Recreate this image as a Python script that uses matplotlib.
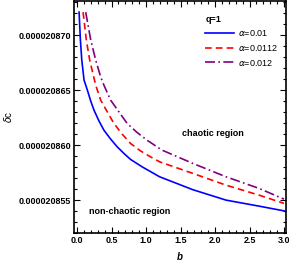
import matplotlib
matplotlib.use("Agg")
import matplotlib.pyplot as plt
from matplotlib.ticker import MultipleLocator, FormatStrFormatter

plt.rcParams['font.family'] = ['Liberation Sans', 'DejaVu Sans']
plt.rcParams['mathtext.fontset'] = 'dejavusans'

# values (delta_c given in units of 1e-6)
b_blue = [0.029, 0.048, 0.068, 0.101, 0.149, 0.198, 0.245, 0.317, 0.389, 0.486, 0.581,
          0.678, 0.775, 0.95, 1.197, 1.677, 2.159, 2.640, 2.976, 3.0]
dc_blue = [20.87209, 20.86955, 20.86773, 20.86591, 20.86500, 20.86400, 20.86318, 20.86220,
           20.86136, 20.86055, 20.85985, 20.85925, 20.85870, 20.85800, 20.85712, 20.85595,
           20.85500, 20.85445, 20.85405, 20.85403]

b_red = [0.087, 0.134, 0.183, 0.27, 0.342, 0.437, 0.534, 0.653, 0.775, 0.918, 1.063,
         1.197, 1.677, 2.159, 2.640, 2.976, 3.0]
dc_red = [20.87209, 20.86955, 20.86773, 20.86545, 20.86409, 20.86303, 20.86197, 20.86100,
          20.86015, 20.85948, 20.85894, 20.85848, 20.85743, 20.85636, 20.85545, 20.85475,
          20.85471]

b_pur = [0.125, 0.198, 0.270, 0.342, 0.389, 0.486, 0.606, 0.726, 0.87, 1.014, 1.230,
         1.677, 2.159, 2.640, 2.976, 3.0]
dc_pur = [20.87209, 20.86955, 20.86773, 20.86620, 20.86545, 20.86409, 20.86303, 20.86197,
          20.86115, 20.86045, 20.85955, 20.85834, 20.85712, 20.85606, 20.85515, 20.85510]

labels = [r"$\alpha$=0.01", r"$\alpha$=0.0112", r"$\alpha$=0.012"]

fig = plt.figure(figsize=(2.89, 2.64), dpi=100)
ax = fig.add_axes([0.256, 0.117, 0.734, 0.879])

ax.plot(b_blue, [v * 1e-6 for v in dc_blue], color=(0, 0, 1), lw=1.2, label=labels[0])
ax.plot(b_red, [v * 1e-6 for v in dc_red], color=(1, 0, 0), lw=1.2, ls=(0, (4, 2.5)), label=labels[1])
ax.plot(b_pur, [v * 1e-6 for v in dc_pur], color=(0.5, 0, 0.5), lw=1.2, ls=(0, (6, 2, 1, 2)), label=labels[2])

ax.set_xlim(-0.045, 3.03)
ax.set_ylim(2.08520e-5, 2.08731e-5)

ax.xaxis.set_major_locator(MultipleLocator(0.5))
ax.xaxis.set_minor_locator(MultipleLocator(0.1))
ax.yaxis.set_major_locator(MultipleLocator(5e-9))
ax.yaxis.set_minor_locator(MultipleLocator(1e-9))
ax.xaxis.set_major_formatter(FormatStrFormatter('%.1f'))
ax.yaxis.set_major_formatter(FormatStrFormatter('%.9f'))
ax.tick_params(which='both', direction='in', top=True, right=True, width=0.8)
ax.tick_params(which='major', length=4, labelsize=6.5, pad=2)
ax.tick_params(which='minor', length=2)
for t in ax.get_xticklabels() + ax.get_yticklabels():
    t.set_fontweight('bold')
for s in ax.spines.values():
    s.set_linewidth(1.2)

ax.set_xlabel("b", fontsize=7, fontstyle='italic', fontweight='bold', labelpad=5)
ax.set_ylabel(r"$\delta$c", fontsize=7, labelpad=3)

ax.text(0.653, 0.431, "chaotic region", transform=ax.transAxes, fontsize=6.5,
        fontweight='bold', ha='center', va='center')
ax.text(0.26, 0.095, "non-chaotic region", transform=ax.transAxes, fontsize=6.5,
        fontweight='bold', ha='center', va='center')

leg = ax.legend(loc='upper right', bbox_to_anchor=(1.0, 0.975), frameon=False,
                fontsize=6.5, handlelength=3.2, handletextpad=0.4, labelspacing=0.5,
                title="q=1", title_fontproperties={'weight': 'bold', 'size': 6.5})
leg._legend_box.align = "left"

fig.savefig("out.png", dpi=100)
